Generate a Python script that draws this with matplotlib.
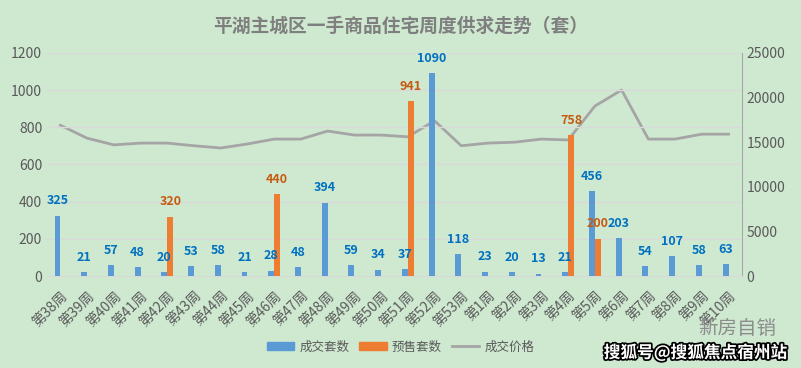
import numpy as np
import matplotlib.pyplot as plt
import matplotlib.patheffects as pe
from matplotlib.lines import Line2D
from matplotlib.patches import Patch

plt.rcParams['font.family'] = ['Noto Sans CJK SC', 'DejaVu Sans']

weeks = ['第38周', '第39周', '第40周', '第41周', '第42周', '第43周', '第44周', '第45周',
         '第46周', '第47周', '第48周', '第49周', '第50周', '第51周', '第52周', '第53周',
         '第1周', '第2周', '第3周', '第4周', '第5周', '第6周', '第7周', '第8周', '第9周', '第10周']
deals = [325, 21, 57, 48, 20, 53, 58, 21, 28, 48, 394, 59, 34, 37, 1090, 118,
         23, 20, 13, 21, 456, 203, 54, 107, 58, 63]
presale = [None, None, None, None, 320, None, None, None, 440, None, None, None, None, 941, None, None,
           None, None, None, 758, 200, None, None, None, None, None]
price = [16900, 15450, 14700, 14900, 14900, 14600, 14350, 14800, 15350, 15350, 16250, 15800, 15800, 15600,
         17400, 14600, 14900, 15000, 15350, 15250, 19050, 20850, 15350, 15350, 15900, 15900]

BG = '#cfe9d1'
BLUE = '#5b9bd5'
ORANGE = '#ed7d31'
GRAY = '#a5a5a5'

fig = plt.figure(figsize=(8.01, 3.68), dpi=100, facecolor=BG)
ax = fig.add_axes([0.0587, 0.25, 0.8675, 0.606], facecolor=BG)
ax2 = ax.twinx()

x = np.arange(len(weeks))
w = 0.22
ax.bar(x - w / 2, deals, width=w, color=BLUE, zorder=3)
for xi, v in zip(x, deals):
    ax.annotate(str(v), (xi - w / 2, v), xytext=(0, 6), textcoords='offset points',
                ha='center', va='bottom', fontsize=9, fontweight='bold', color='#0070c0', zorder=5)
for xi, v in zip(x, presale):
    if v is None:
        continue
    ax.bar(xi + w / 2, v, width=w, color=ORANGE, zorder=3)
    ax.annotate(str(v), (xi + w / 2, v), xytext=(0, 6), textcoords='offset points',
                ha='center', va='bottom', fontsize=9, fontweight='bold', color='#c55a11', zorder=5)

ax2.plot(x, price, color=GRAY, lw=2, zorder=4)

ax.set_xlim(-0.5, len(weeks) - 0.5)
ax.set_ylim(0, 1200)
ax.set_yticks(range(0, 1201, 200))
ax2.set_ylim(0, 25000)
ax2.set_yticks(range(0, 25001, 5000))
ax.set_xticks(x)
ax.set_xticklabels(weeks, rotation=45, ha='right', rotation_mode='anchor', fontsize=10, color='#595959')
ax.tick_params(axis='y', labelsize=10, labelcolor='#595959', length=0)
ax2.tick_params(axis='y', labelsize=10, labelcolor='#595959', length=0)
ax.tick_params(axis='x', length=0, pad=9)
ax.grid(axis='y', color='#d9d9d9', lw=1, zorder=0)
ax.set_axisbelow(True)
ax2.set_zorder(ax.get_zorder() - 1)
ax.patch.set_visible(False)
ax2.patch.set_facecolor(BG)

for a in (ax, ax2):
    for s in ('top', 'left'):
        a.spines[s].set_visible(False)
    a.spines['bottom'].set_color('#d9d9d9')
ax.spines['right'].set_visible(False)
ax2.spines['right'].set_color('#a6a6a6')

fig.text(0.5, 0.93, '平湖主城区一手商品住宅周度供求走势（套）', ha='center', va='center',
         fontsize=13.5, fontweight='bold', color='#7f7f7f')

handles = [Patch(color=BLUE), Patch(color=ORANGE), Line2D([], [], color=GRAY, lw=2)]
fig.legend(handles, ['成交套数', '预售套数', '成交价格'], loc='center', bbox_to_anchor=(0.5, 0.057),
           ncol=3, frameon=False, fontsize=9, labelcolor='#595959', handlelength=2.2,
           handleheight=0.6, columnspacing=0.8, handletextpad=0.4)

fig.text(0.92, 0.108, '新房自销', ha='center', va='center', fontsize=14, color='#8c8c8c')
fig.text(0.868, 0.042, '搜狐号@搜狐焦点宿州站', ha='center', va='center', fontsize=12, fontweight='bold',
         color='white', path_effects=[pe.withStroke(linewidth=2.5, foreground='black')])

fig.savefig('out.png', dpi=100, facecolor=BG)
